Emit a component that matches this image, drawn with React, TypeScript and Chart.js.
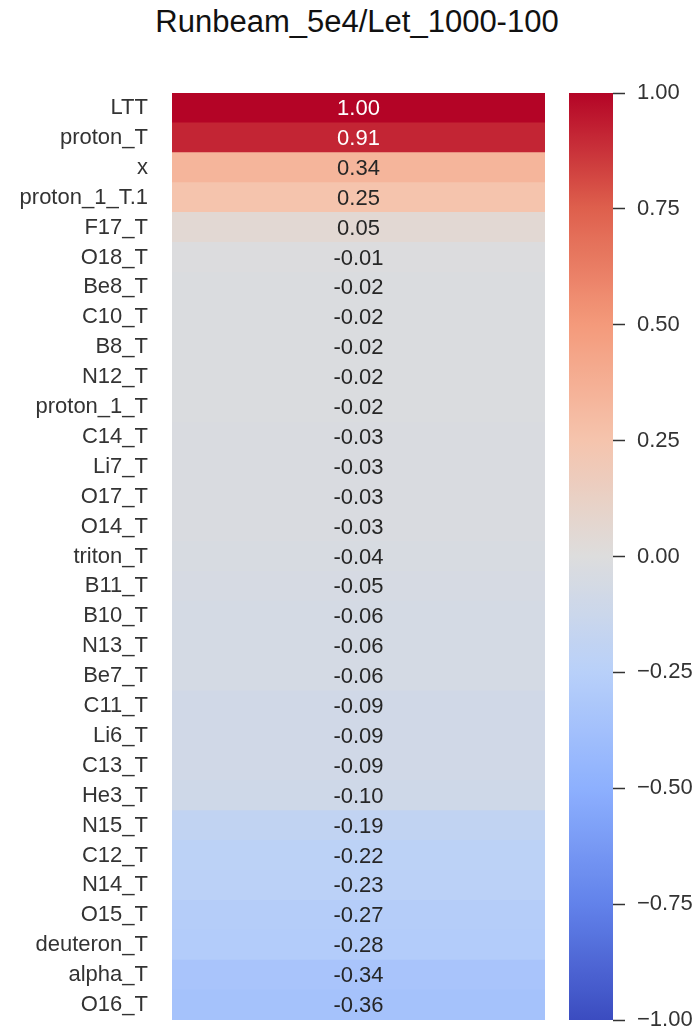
import React, { useEffect, useRef } from "react";
import { Chart, registerables } from "chart.js";

Chart.register(...registerables);

const chartTitle = "Runbeam_5e4/Let_1000-100";

const rowLabels = [
  "LTT", "proton_T", "x", "proton_1_T.1", "F17_T", "O18_T", "Be8_T", "C10_T",
  "B8_T", "N12_T", "proton_1_T", "C14_T", "Li7_T", "O17_T", "O14_T", "triton_T",
  "B11_T", "B10_T", "N13_T", "Be7_T", "C11_T", "Li6_T", "C13_T", "He3_T",
  "N15_T", "C12_T", "N14_T", "O15_T", "deuteron_T", "alpha_T", "O16_T",
];

const corrValues = [
  1.0, 0.91, 0.34, 0.25, 0.05, -0.01, -0.02, -0.02,
  -0.02, -0.02, -0.02, -0.03, -0.03, -0.03, -0.03, -0.04,
  -0.05, -0.06, -0.06, -0.06, -0.09, -0.09, -0.09, -0.1,
  -0.19, -0.22, -0.23, -0.27, -0.28, -0.34, -0.36,
];

const colorbarTicks = [-1, -0.75, -0.5, -0.25, 0, 0.25, 0.5, 0.75, 1];
const vMin = -1;
const vMax = 1;

// coolwarm colormap control points (fraction, r, g, b)
const coolwarmStops: number[][] = [
  [0.0, 59, 76, 192],
  [0.125, 98, 130, 234],
  [0.25, 141, 176, 254],
  [0.375, 184, 208, 249],
  [0.5, 221, 221, 221],
  [0.625, 245, 196, 173],
  [0.75, 244, 154, 123],
  [0.875, 222, 96, 77],
  [1.0, 180, 4, 38],
];

function cmapRGB(v: number): number[] {
  let t = (v - vMin) / (vMax - vMin);
  t = Math.max(0, Math.min(1, t));
  for (let i = 0; i < coolwarmStops.length - 1; i++) {
    const a = coolwarmStops[i];
    const b = coolwarmStops[i + 1];
    if (t >= a[0] && t <= b[0]) {
      const f = (t - a[0]) / (b[0] - a[0]);
      return [1, 2, 3].map((k) => Math.round(a[k] + (b[k] - a[k]) * f));
    }
  }
  const last = coolwarmStops[coolwarmStops.length - 1];
  return [last[1], last[2], last[3]];
}

function cmap(v: number): string {
  const [r, g, b] = cmapRGB(v);
  return `rgb(${r},${g},${b})`;
}

function relLum(rgb: number[]): number {
  const c = rgb.map((x) => {
    const s = x / 255;
    return s <= 0.03928 ? s / 12.92 : Math.pow((s + 0.055) / 1.055, 2.4);
  });
  return 0.2126 * c[0] + 0.7152 * c[1] + 0.0722 * c[2];
}

const FONT = '"Liberation Sans", Arial, sans-serif';

export default function App() {
  const heatRef = useRef<HTMLCanvasElement>(null);
  const cbRef = useRef<HTMLCanvasElement>(null);

  useEffect(() => {
    const annotate = {
      id: "annotate",
      afterDatasetsDraw(chart: any) {
        const ctx = chart.ctx;
        const meta = chart.getDatasetMeta(0);
        const area = chart.chartArea;
        const cx = (area.left + area.right) / 2;
        ctx.save();
        ctx.font = `22px ${FONT}`;
        ctx.textAlign = "center";
        ctx.textBaseline = "middle";
        meta.data.forEach((bar: any, i: number) => {
          const v = corrValues[i];
          ctx.fillStyle = relLum(cmapRGB(v)) < 0.408 ? "#ffffff" : "#262626";
          ctx.fillText(v.toFixed(2), cx, bar.y + 1);
        });
        ctx.restore();
      },
    };

    const heat = new Chart(heatRef.current as HTMLCanvasElement, {
      type: "bar",
      data: {
        labels: rowLabels,
        datasets: [
          {
            data: corrValues.map(() => [0, 1]) as any,
            backgroundColor: corrValues.map((v) => cmap(v)),
            borderWidth: 0,
            barPercentage: 1,
            categoryPercentage: 1,
            inflateAmount: 0.5,
          } as any,
        ],
      },
      options: {
        animation: false,
        responsive: false,
        devicePixelRatio: 1,
        indexAxis: "y",
        layout: { padding: { top: 93, bottom: 13, right: 15, left: 0 } },
        plugins: { legend: { display: false }, tooltip: { enabled: false } },
        scales: {
          x: { display: false, min: 0, max: 1 },
          y: {
            grid: { display: false, drawTicks: false },
            border: { display: false },
            ticks: {
              padding: 24,
              color: "#333333",
              autoSkip: false,
              font: { family: FONT, size: 22 },
            },
            afterFit: (s: any) => {
              s.width = 172;
              s.paddingTop = 0;
              s.paddingBottom = 0;
            },
          },
        },
      } as any,
      plugins: [annotate],
    });

    const cb = new Chart(cbRef.current as HTMLCanvasElement, {
      type: "bar",
      data: {
        labels: [""],
        datasets: [
          {
            data: [[vMin, vMax]] as any,
            backgroundColor: (c: any) => {
              const area = c.chart.chartArea;
              if (!area) return cmap(0);
              const g = c.chart.ctx.createLinearGradient(0, area.bottom, 0, area.top);
              const n = 64;
              for (let i = 0; i <= n; i++) {
                const f = i / n;
                g.addColorStop(f, cmap(vMin + (vMax - vMin) * f));
              }
              return g;
            },
            borderWidth: 0,
            barPercentage: 1,
            categoryPercentage: 1,
          } as any,
        ],
      },
      options: {
        animation: false,
        responsive: false,
        devicePixelRatio: 1,
        layout: { padding: { top: 93, bottom: 13, left: 9, right: 0 } },
        plugins: { legend: { display: false }, tooltip: { enabled: false } },
        scales: {
          x: { display: false },
          y: {
            position: "right",
            min: vMin,
            max: vMax,
            afterBuildTicks: (s: any) => {
              s.ticks = colorbarTicks.map((v) => ({ value: v }));
            },
            ticks: {
              padding: 12,
              color: "#333333",
              font: { family: FONT, size: 22 },
              callback: (v: any) => {
                const n = Number(v);
                const s = Math.abs(n).toFixed(2);
                return n < 0 ? "\u2212" + s : s;
              },
            },
            grid: {
              drawOnChartArea: false,
              drawTicks: true,
              tickLength: 12,
              tickColor: "#333333",
              tickWidth: 1.5,
            },
            border: { display: false },
            afterFit: (s: any) => {
              s.width = 86;
              s.paddingTop = 0;
              s.paddingBottom = 0;
            },
          },
        },
      } as any,
    });

    return () => {
      heat.destroy();
      cb.destroy();
    };
  }, []);

  return (
    <div
      style={{
        position: "absolute",
        left: 0,
        top: 0,
        width: 699,
        height: 1033,
        background: "#ffffff",
        overflow: "hidden",
      }}
    >
      <div
        style={{
          position: "absolute",
          left: 357,
          top: 6,
          transform: "translateX(-50%)",
          fontFamily: FONT,
          fontSize: 31,
          lineHeight: "31px",
          whiteSpace: "nowrap",
          color: "#111111",
        }}
      >
        {chartTitle}
      </div>
      <canvas
        ref={heatRef}
        width={560}
        height={1033}
        style={{ position: "absolute", left: 0, top: 0, width: 560, height: 1033 }}
      />
      <canvas
        ref={cbRef}
        width={139}
        height={1033}
        style={{ position: "absolute", left: 560, top: 0, width: 139, height: 1033 }}
      />
    </div>
  );
}
